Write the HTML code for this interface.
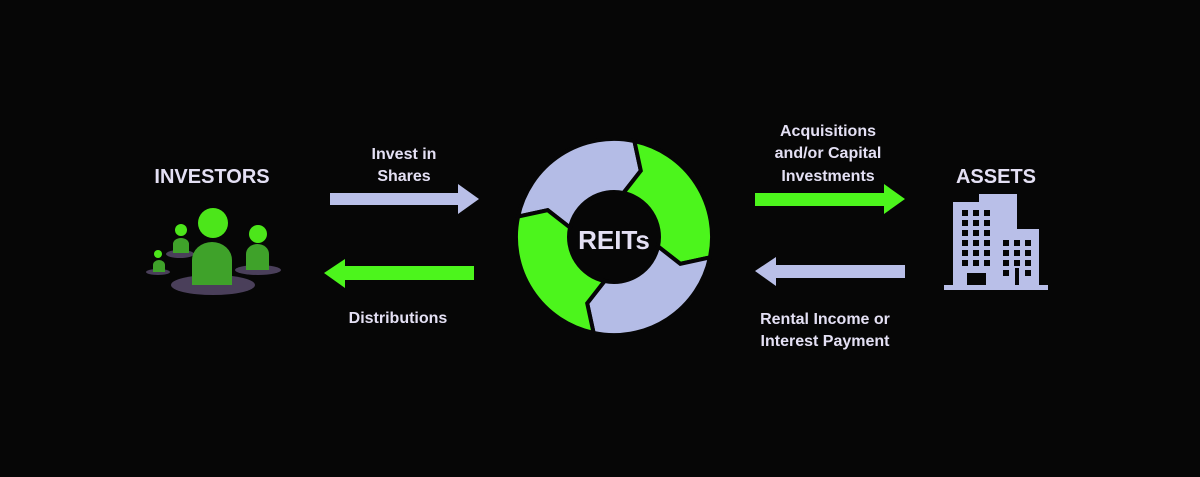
<!DOCTYPE html>
<html><head><meta charset="utf-8"><style>
html,body{margin:0;padding:0;background:#060606;}
svg{display:block}
text{font-family:"Liberation Sans",sans-serif;font-weight:bold;fill:#e4e0f4;text-anchor:middle}
</style></head><body>
<svg width="1200" height="477" viewBox="0 0 1200 477" xmlns="http://www.w3.org/2000/svg">
<rect width="1200" height="477" fill="#060606"/>
<!-- labels -->
<text x="212" y="183" font-size="20">INVESTORS</text>
<text x="404" y="159" font-size="16">Invest in</text>
<text x="404" y="181" font-size="16">Shares</text>
<text x="398" y="323" font-size="16">Distributions</text>
<text x="828" y="136" font-size="16">Acquisitions</text>
<text x="828" y="158" font-size="16">and/or Capital</text>
<text x="828" y="181" font-size="16">Investments</text>
<text x="996" y="183" font-size="20">ASSETS</text>
<text x="825" y="324" font-size="16">Rental Income or</text>
<text x="825" y="346" font-size="16">Interest Payment</text>
<!-- arrows -->
<polygon points="330,193 458,193 458,184 479,199 458,214 458,205 330,205" fill="#b9bfe8"/>
<polygon points="474,266 345,266 345,259 324,273 345,288 345,280 474,280" fill="#4cf51c"/>
<polygon points="755,193 884,193 884,184 905,199 884,214 884,206 755,206" fill="#4cf51c"/>
<polygon points="905,265 776,265 776,257 755,271 776,286 776,278 905,278" fill="#b9bfe8"/>
<!-- ring -->
<g stroke="#060606" stroke-width="4" stroke-linejoin="miter">
<path d="M518.1,216.6 A98,98 0 0 1 634.4,141.1 L640.8,170.7 L623.4,193.0 A45,45 0 0 0 570.0,227.6 L547.7,210.2 Z" fill="#b4bce6"/>
<path d="M634.4,141.1 A98,98 0 0 1 709.9,257.4 L680.3,263.8 L658.0,246.4 A45,45 0 0 0 623.4,193.0 L640.8,170.7 Z" fill="#4cf51c"/>
<path d="M709.9,257.4 A98,98 0 0 1 593.6,332.9 L587.2,303.3 L604.6,281.0 A45,45 0 0 0 658.0,246.4 L680.3,263.8 Z" fill="#b4bce6"/>
<path d="M593.6,332.9 A98,98 0 0 1 518.1,216.6 L547.7,210.2 L570.0,227.6 A45,45 0 0 0 604.6,281.0 L587.2,303.3 Z" fill="#4cf51c"/>
</g>
<text x="614" y="249" font-size="26" fill="#dcdcf2">REITs</text>
<!-- investors -->
<ellipse cx="213" cy="285" rx="42" ry="10" fill="#4a3f5a"/>
<ellipse cx="258" cy="270" rx="23" ry="5" fill="#4a3f5a"/>
<ellipse cx="180" cy="254" rx="14" ry="4" fill="#4a3f5a"/>
<ellipse cx="158" cy="272" rx="12" ry="3" fill="#4a3f5a"/>
<path d="M192,285 V260 A20,18 0 0 1 232,260 V285 Z" fill="#3fa22a"/>
<circle cx="213" cy="223" r="15" fill="#4ce61a"/>
<path d="M246,270 V254 A11.5,10 0 0 1 269,254 V270 Z" fill="#3fa22a"/>
<circle cx="258" cy="234" r="9" fill="#4ce61a"/>
<path d="M173,253 V244 A8,6 0 0 1 189,244 V253 Z" fill="#3fa22a"/>
<circle cx="181" cy="230" r="6" fill="#4ce61a"/>
<path d="M153,272 V265 A6,5 0 0 1 165,265 V272 Z" fill="#3fa22a"/>
<circle cx="158" cy="254" r="4" fill="#4ce61a"/>
<!-- building -->
<g fill="#b9bfe8">
<rect x="953" y="202" width="30" height="84"/>
<rect x="979" y="194" width="38" height="92"/>
<rect x="1016" y="229" width="23" height="57"/>
<rect x="944" y="285" width="104" height="5"/>
</g>
<g fill="#060606">
<rect x="962" y="210" width="6" height="6"/><rect x="973" y="210" width="6" height="6"/><rect x="984" y="210" width="6" height="6"/>
<rect x="962" y="220" width="6" height="6"/><rect x="973" y="220" width="6" height="6"/><rect x="984" y="220" width="6" height="6"/>
<rect x="962" y="230" width="6" height="6"/><rect x="973" y="230" width="6" height="6"/><rect x="984" y="230" width="6" height="6"/>
<rect x="962" y="240" width="6" height="6"/><rect x="973" y="240" width="6" height="6"/><rect x="984" y="240" width="6" height="6"/>
<rect x="962" y="250" width="6" height="6"/><rect x="973" y="250" width="6" height="6"/><rect x="984" y="250" width="6" height="6"/>
<rect x="962" y="260" width="6" height="6"/><rect x="973" y="260" width="6" height="6"/><rect x="984" y="260" width="6" height="6"/>
<rect x="967" y="273" width="19" height="12"/>
<rect x="1003" y="240" width="6" height="6"/><rect x="1014" y="240" width="6" height="6"/><rect x="1025" y="240" width="6" height="6"/>
<rect x="1003" y="250" width="6" height="6"/><rect x="1014" y="250" width="6" height="6"/><rect x="1025" y="250" width="6" height="6"/>
<rect x="1003" y="260" width="6" height="6"/><rect x="1014" y="260" width="6" height="6"/><rect x="1025" y="260" width="6" height="6"/>
<rect x="1003" y="270" width="6" height="6"/><rect x="1025" y="270" width="6" height="6"/>
<rect x="1015" y="268" width="4" height="17"/>
</g>
</svg>
</body></html>
